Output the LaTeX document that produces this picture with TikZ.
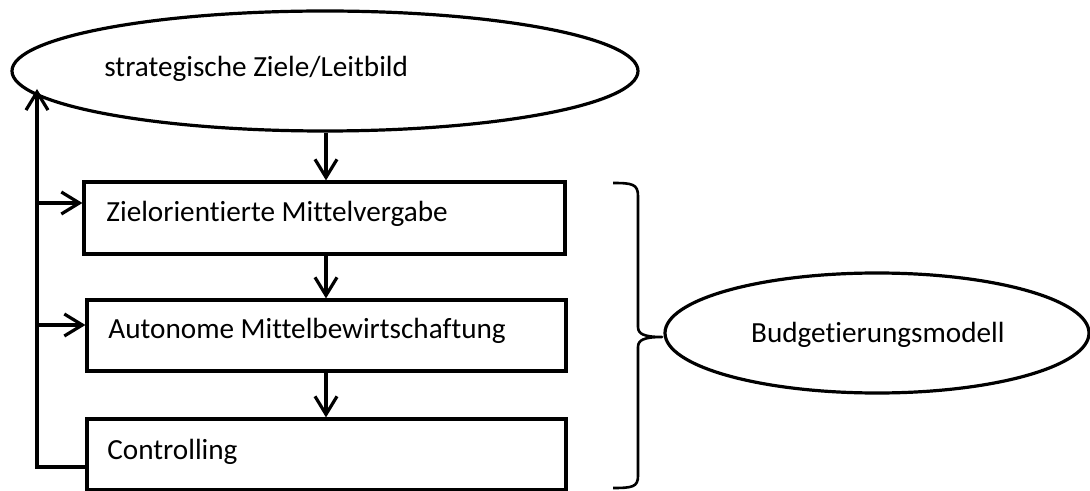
\documentclass[tikz,border=0pt]{standalone}
\usepackage{fontspec}
\setmainfont{Carlito}[Ligatures=NoCommon]
\usetikzlibrary{shapes.geometric,arrows.meta}
\tikzset{
  ln/.style={line width=1.6pt},
  arr/.style={ln, -{Straight Barb[length=9pt,width=11pt]}},
  boxnode/.style={draw, ln, rectangle, inner sep=0pt},
  ell/.style={draw, ln, ellipse, inner sep=0pt},
  lbl/.style={font=\fontsize{14.6}{17}\selectfont, inner sep=0pt},
  bracepath/.style={line width=1.3pt, line join=round}
}
\begin{document}
\begin{tikzpicture}[x=0.5pt, y=-0.5pt]
\useasboundingbox (0,0) rectangle (1090,491);
% nodes
\node[ell, minimum width=313pt, minimum height=60pt] (e1) at (325,71) {};
\node[lbl, anchor=base west] (t1) at (104,77) {strategische Ziele/Leitbild};
\node[boxnode, minimum width=240.5pt, minimum height=36pt] (b1) at (324.5,218) {};
\node[lbl, anchor=base west] (t2) at (106,222) {Zielorientierte Mittelvergabe};
\node[boxnode, minimum width=239.5pt, minimum height=35.5pt] (b2) at (326.5,335.5) {};
\node[lbl, anchor=base west] (t3) at (108,338) {Autonome Mittelbewirtschaftung};
\node[boxnode, minimum width=239.5pt, minimum height=35.5pt] (b3) at (326.5,454.5) {};
\node[lbl, anchor=base west] (t4) at (107,459) {Controlling};
\node[ell, minimum width=212pt, minimum height=60pt] (e2) at (877,333) {};
\node[lbl, anchor=base east] (t5) at (1005,342) {Budgetierungsmodell};
% coordinates
\coordinate (fbc) at (37,467);
\coordinate (fbtop) at (37,89);
\coordinate (j1) at (37,203);
\coordinate (j2) at (37,325);
\coordinate (ax) at (326,0);
% connectors
\draw[arr] (ax |- e1.south) -- (ax |- b1.north);
\draw[arr] (ax |- b1.south) -- (ax |- b2.north);
\draw[arr] (ax |- b2.south) -- (ax |- b3.north);
\draw[arr, line join=miter] (fbc -| b3.west) -- (fbc) -- (fbtop);
\draw[arr] (j1) -- (j1 -| b1.west);
\draw[arr] (j2) -- (j2 -| b2.west);
% brace
\draw[bracepath] (613,183) .. controls (632,183) and (638,184) .. (638,196)
  -- (638,327) .. controls (638,334) and (644,337) .. (662,337)
  .. controls (644,337) and (638,340) .. (638,347)
  -- (638,476) .. controls (638,487) and (632,488) .. (613,488);
\end{tikzpicture}
\end{document}
